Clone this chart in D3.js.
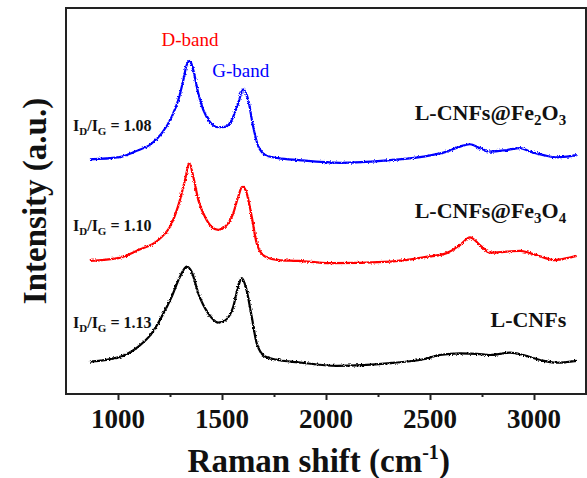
<!DOCTYPE html>
<html>
<head>
<meta charset="utf-8">
<script src="https://cdn.jsdelivr.net/npm/d3@7"></script>
<style>
  body { margin: 0; background: #fff; }
  svg { display: block; font-family: "Liberation Serif", "Times New Roman", serif; }
  .tick-label { font-weight: bold; font-size: 27px; fill: #111; }
  .axis-title { font-weight: bold; font-size: 33px; fill: #111; }
  .series-label { font-weight: bold; font-size: 22px; fill: #111; }
  .ratio-label { font-weight: bold; font-size: 16px; fill: #111; }
  .band-label { font-size: 19px; }
</style>
</head>
<body>
<svg id="raman-chart"></svg>
<script>
// Raman spectra: [Raman shift (cm-1), intensity (a.u., offset stacked)]
const lcnfs = [
  [865, 8.4], [1001, 9.5], [1098, 12.3], [1162, 15.7], [1210, 20.0], [1258, 25.2],
  [1298, 30.4], [1330, 33.0], [1354, 31.7], [1386, 26.1], [1434, 20.9], [1482, 18.5],
  [1514, 19.0], [1554, 22.6], [1578, 27.8], [1595, 30.0], [1614, 27.8], [1643, 20.0],
  [1667, 13.1], [1707, 9.7], [1771, 8.8], [1867, 8.2], [2051, 7.3], [2308, 8.0],
  [2468, 9.0], [2548, 10.1], [2644, 10.5], [2725, 10.4], [2789, 10.1], [2885, 10.7],
  [2949, 10.1], [3029, 8.8], [3109, 8.1], [3205, 8.6]
];

const lcnfsFe3O4 = [
  [865, 34.5], [1001, 35.2], [1098, 37.3], [1194, 39.9], [1258, 44.2], [1298, 50.3],
  [1322, 55.4], [1343, 59.8], [1362, 56.3], [1386, 50.3], [1418, 45.9], [1450, 43.3],
  [1482, 42.5], [1514, 43.3], [1554, 46.8], [1578, 51.1], [1598, 53.7], [1619, 52.0],
  [1643, 45.9], [1667, 39.0], [1707, 35.6], [1771, 34.7], [1867, 34.5], [2019, 33.9],
  [2308, 34.3], [2468, 35.4], [2580, 36.5], [2644, 38.6], [2692, 40.6], [2740, 38.6],
  [2789, 36.6], [2869, 36.9], [2933, 37.1], [2981, 36.5], [3045, 35.4], [3093, 34.7],
  [3157, 35.2], [3205, 35.8]
];

const lcnfsFe2O3 = [
  [865, 60.8], [1001, 61.3], [1082, 62.8], [1162, 64.9], [1210, 67.5], [1258, 71.8],
  [1290, 76.2], [1314, 81.3], [1330, 85.2], [1346, 86.3], [1362, 83.9], [1386, 77.9],
  [1410, 73.6], [1442, 70.5], [1482, 69.1], [1514, 69.2], [1547, 71.0], [1578, 75.3],
  [1602, 78.9], [1626, 76.2], [1650, 69.2], [1675, 64.1], [1715, 61.7], [1771, 61.1],
  [1867, 60.6], [2067, 59.9], [2308, 60.6], [2468, 61.5], [2580, 62.8], [2644, 64.1],
  [2692, 64.7], [2740, 63.7], [2789, 62.8], [2869, 63.2], [2933, 63.7], [2981, 62.8],
  [3045, 61.9], [3109, 61.3], [3157, 61.5], [3205, 61.9]
];

const seriesNames = ["L-CNFs", "L-CNFs@Fe3O4", "L-CNFs@Fe2O3"];
const seriesColors = ["#000000", "#ff0000", "#0000ff"];
const ratioLabels = ["1.13", "1.10", "1.08"];
const majorTicks = [1000, 1500, 2000, 2500, 3000];
const minorTicks = [1250, 1750, 2250, 2750];

function drawRamanChart() {
  const width = 587, height = 478;
  const margin = { top: 8, right: 1, bottom: 84, left: 66 };
  const innerW = width - margin.left - margin.right;
  const innerH = height - margin.top - margin.bottom;

  const svg = d3.select("#raman-chart")
    .attr("width", width)
    .attr("height", height);

  // small jitter on the traces, like the detector noise in the original
  const defs = svg.append("defs");
  const filt = defs.append("filter")
    .attr("id", "rough")
    .attr("filterUnits", "userSpaceOnUse")
    .attr("x", 0).attr("y", 0).attr("width", width).attr("height", height);
  filt.append("feTurbulence")
    .attr("type", "fractalNoise")
    .attr("baseFrequency", "0.6 1.4")
    .attr("numOctaves", 2)
    .attr("seed", 4)
    .attr("result", "noise");
  filt.append("feDisplacementMap")
    .attr("in", "SourceGraphic")
    .attr("in2", "noise")
    .attr("scale", 3)
    .attr("xChannelSelector", "R")
    .attr("yChannelSelector", "G");

  const g = svg.append("g")
    .attr("transform", `translate(${margin.left},${margin.top})`);

  const x = d3.scaleLinear().domain([750, 3250]).range([0, innerW]);
  const y = d3.scaleLinear().domain([0, 100]).range([innerH, 0]);

  // spectra
  const line = d3.line()
    .x(d => x(d[0]))
    .y(d => y(d[1]))
    .curve(d3.curveMonotoneX);

  const allSeries = [lcnfs, lcnfsFe3O4, lcnfsFe2O3];
  g.append("g")
    .attr("filter", "url(#rough)")
    .selectAll("path")
    .data(allSeries)
    .join("path")
    .attr("d", d => line(d))
    .attr("fill", "none")
    .attr("stroke", (d, i) => seriesColors[i])
    .attr("stroke-width", 2.2)
    .attr("stroke-linejoin", "round");

  // bottom axis: major + minor ticks, labels drawn separately
  const axisX = g.append("g")
    .attr("transform", `translate(0,${innerH})`)
    .call(d3.axisBottom(x).tickValues(majorTicks).tickSize(6).tickFormat(""));
  axisX.select(".domain").remove();
  axisX.selectAll("line").attr("stroke", "#222").attr("stroke-width", 2);

  const axisMinor = g.append("g")
    .attr("transform", `translate(0,${innerH})`)
    .call(d3.axisBottom(x).tickValues(minorTicks).tickSize(3).tickFormat(""));
  axisMinor.select(".domain").remove();
  axisMinor.selectAll("line").attr("stroke", "#222").attr("stroke-width", 2);

  g.append("g")
    .selectAll("text")
    .data(majorTicks)
    .join("text")
    .attr("class", "tick-label")
    .attr("x", d => x(d))
    .attr("y", innerH + 34)
    .attr("text-anchor", "middle")
    .text(d => d);

  // frame
  g.append("rect")
    .attr("width", innerW)
    .attr("height", innerH)
    .attr("fill", "none")
    .attr("stroke", "#222")
    .attr("stroke-width", 2);

  // axis titles
  const xt = svg.append("text")
    .attr("class", "axis-title")
    .attr("x", margin.left + x(1965))
    .attr("y", 472)
    .attr("text-anchor", "middle");
  xt.append("tspan").text("Raman shift (cm");
  xt.append("tspan").attr("dy", -13).attr("font-size", "20px").text("-1");
  xt.append("tspan").attr("dy", 13).text(")");

  svg.append("text")
    .attr("class", "axis-title")
    .attr("transform", `translate(46,${margin.top + innerH / 2}) rotate(-90)`)
    .attr("text-anchor", "middle")
    .text("Intensity (a.u.)");

  // band labels
  g.append("text")
    .attr("class", "band-label")
    .attr("x", x(1346))
    .attr("y", 38)
    .attr("text-anchor", "middle")
    .attr("fill", "#ff0000")
    .text("D-band");

  g.append("text")
    .attr("class", "band-label")
    .attr("x", x(1590))
    .attr("y", 69)
    .attr("text-anchor", "middle")
    .attr("fill", "#0000ff")
    .text("G-band");

  // sample names with chemical subscripts
  const nameY = [319, 210, 112];
  const names = g.append("g");
  seriesNames.forEach((name, i) => {
    const t = names.append("text")
      .attr("class", "series-label")
      .attr("x", x(3155))
      .attr("y", nameY[i])
      .attr("text-anchor", "end");
    const parts = name.match(/[A-Za-z@\-]+|\d/g);
    parts.forEach((p, k) => {
      const isSub = /^\d$/.test(p);
      const prevSub = k > 0 && /^\d$/.test(parts[k - 1]);
      const ts = t.append("tspan").text(p);
      if (isSub) ts.attr("dy", 5).attr("font-size", "15px");
      else if (prevSub) ts.attr("dy", -5);
    });
  });

  // I_D / I_G ratios
  const ratioY = [320, 223, 123];
  ratioLabels.forEach((r, i) => {
    const t = g.append("text")
      .attr("class", "ratio-label")
      .attr("x", 7)
      .attr("y", ratioY[i]);
    t.append("tspan").text("I");
    t.append("tspan").attr("dy", 4).attr("font-size", "11px").text("D");
    t.append("tspan").attr("dy", -4).text("/I");
    t.append("tspan").attr("dy", 4).attr("font-size", "11px").text("G");
    t.append("tspan").attr("dy", -4).text(" = " + r);
  });
}

drawRamanChart();
</script>
</body>
</html>
